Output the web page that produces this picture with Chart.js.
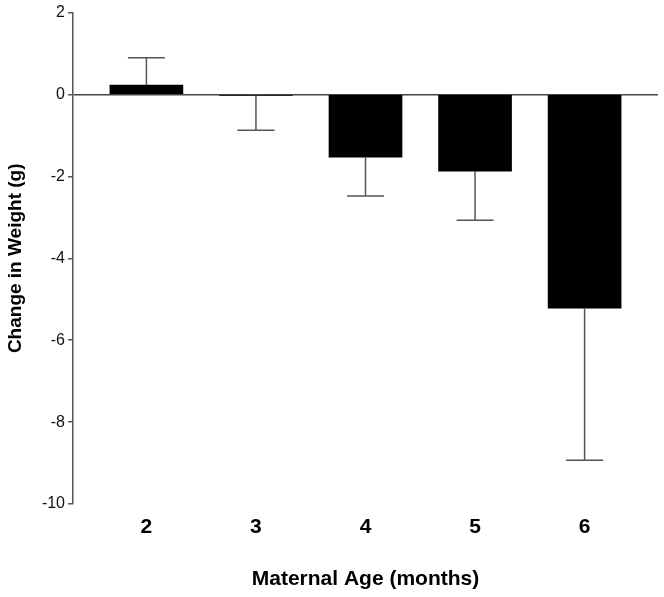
<!DOCTYPE html>
<html>
<head>
<meta charset="utf-8">
<script src="https://cdn.jsdelivr.net/npm/chart.js@4.4.1/dist/chart.umd.min.js"></script>
<style>
  html, body { margin: 0; padding: 0; background: #fff; }
  #wrap { width: 664px; height: 597px; }
</style>
</head>
<body>
<div id="wrap"><canvas id="chart"></canvas></div>
<script>
// Maternal age groups (months) and mean weight change with SEM
const categories = ['2', '3', '4', '5', '6'];
const meanChange = [0.23, -0.02, -1.53, -1.87, -5.22];
const errorSize = [0.67, 0.85, 0.95, 1.2, 3.71];
const yTicks = [2, 0, -2, -4, -6, -8, -10];

const FONT = "'Liberation Sans', Arial, sans-serif";

// Draw error bars away from zero, with a cap at the end
const errorBars = {
    id: 'errorBars',
    afterDatasetsDraw(chart) {
        const ctx = chart.ctx;
        const yScale = chart.scales.y;
        const meta = chart.getDatasetMeta(0);
        ctx.save();
        ctx.strokeStyle = '#555';
        ctx.lineWidth = 1.5;
        meta.data.forEach((bar, i) => {
            const v = meanChange[i];
            const end = v >= 0 ? v + errorSize[i] : v - errorSize[i];
            const y0 = yScale.getPixelForValue(v);
            const y1 = yScale.getPixelForValue(end);
            ctx.beginPath();
            ctx.moveTo(bar.x, y0);
            ctx.lineTo(bar.x, y1);
            ctx.moveTo(bar.x - 18.5, y1);
            ctx.lineTo(bar.x + 18.5, y1);
            ctx.stroke();
        });
        ctx.restore();
    }
};

new Chart(document.getElementById('chart'), {
    type: 'bar',
    data: {
        datasets: [{
            data: meanChange.map((v, i) => ({ x: i, y: v })),
            backgroundColor: '#000',
            borderWidth: 0,
            barThickness: 73
        }]
    },
    options: {
        responsive: true,
        maintainAspectRatio: false,
        animation: false,
        layout: { padding: { top: 12, right: 6, left: 0, bottom: 0 } },
        plugins: {
            legend: { display: false },
            tooltip: { enabled: false }
        },
        scales: {
            x: {
                type: 'linear',
                offset: false,
                min: -0.67,
                max: 4.67,
                grid: { display: false, drawTicks: false },
                border: { display: false },
                ticks: {
                    stepSize: 1,
                    includeBounds: false,
                    autoSkip: false,
                    maxRotation: 0,
                    padding: 11,
                    color: '#000',
                    font: { family: FONT, size: 21, weight: 'bold' },
                    callback: (v) => Number.isInteger(v) && categories[v] !== undefined ? categories[v] : ''
                },
                title: {
                    display: true,
                    text: 'Maternal Age (months)',
                    color: '#000',
                    font: { family: FONT, size: 21, weight: 'bold' },
                    padding: { top: 0, bottom: 5 }
                },
                afterFit: (scale) => { scale.height = 93; }
            },
            y: {
                min: -10,
                max: 2,
                afterBuildTicks: (scale) => { scale.ticks = yTicks.map(v => ({ value: v })); },
                grid: {
                    drawOnChartArea: true,
                    color: (c) => c.tick && c.tick.value === 0 ? '#444' : 'rgba(0,0,0,0)',
                    lineWidth: 1.5,
                    tickColor: '#555',
                    tickLength: 5
                },
                border: { color: '#555', width: 1.5 },
                ticks: {
                    padding: 3,
                    color: '#111',
                    font: { family: FONT, size: 16 }
                },
                title: {
                    display: true,
                    text: 'Change in Weight (g)',
                    color: '#000',
                    font: { family: FONT, size: 19, weight: 'bold' },
                    padding: { top: 4, bottom: 0 }
                },
                afterFit: (scale) => { scale.width = 73; }
            }
        }
    },
    plugins: [errorBars]
});
</script>
</body>
</html>
